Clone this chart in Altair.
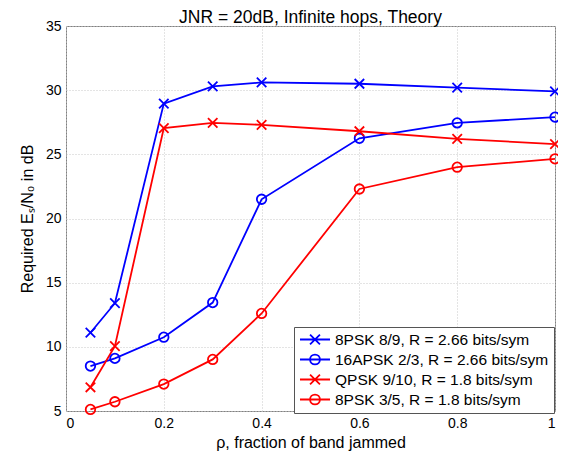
import altair as alt
import pandas as pd

rho = [0.05, 0.1, 0.2, 0.3, 0.4, 0.6, 0.8, 1.0]
series_names = [
    "8PSK 8/9, R = 2.66 bits/sym",
    "16APSK 2/3, R = 2.66 bits/sym",
    "QPSK 9/10, R = 1.8 bits/sym",
    "8PSK 3/5, R = 1.8 bits/sym",
]
psk8_89 = [11.1, 13.4, 28.95, 30.3, 30.6, 30.5, 30.2, 29.9]
apsk16_23 = [8.5, 9.1, 10.75, 13.45, 21.5, 26.25, 27.45, 27.9]
qpsk_910 = [6.85, 10.05, 27.05, 27.45, 27.3, 26.8, 26.2, 25.8]
psk8_35 = [5.12, 5.72, 7.1, 9.02, 12.6, 22.3, 24.0, 24.65]
series_values = [psk8_89, apsk16_23, qpsk_910, psk8_35]
series_colors = ["#0000ff", "#0000ff", "#ff0000", "#ff0000"]
x_ticks = [0, 0.2, 0.4, 0.6, 0.8, 1]
y_ticks = [5, 10, 15, 20, 25, 30, 35]

X_PATH = "M-1,-1L1,1M-1,1L1,-1"
marker_shapes = [X_PATH, "circle", X_PATH, "circle"]
LEG_X = "M-1,0L1,0M-0.33,-0.33L0.33,0.33M-0.33,0.33L0.33,-0.33"
LEG_O = "M-1,0L1,0M0.33,0A0.33,0.33 0 1,1 -0.33,0A0.33,0.33 0 1,1 0.33,0"
legend_shapes = [LEG_X, LEG_O, LEG_X, LEG_O]

rows = []
for name, vals in zip(series_names, series_values):
    for r, v in zip(rho, vals):
        rows.append({"series": name, "rho": r, "val": v})
df = pd.DataFrame(rows)

FONT = "Liberation Sans"
axis_style = dict(labelFont=FONT, labelFontSize=14, labelColor="black",
                  titleFont=FONT, titleFontSize=16, titleFontWeight="normal", titleColor="black",
                  grid=True, gridColor="#c8c8c8", gridDash=[1, 2], domain=False, ticks=False)

x_enc = alt.X("rho:Q", scale=alt.Scale(domain=[0, 1], nice=False),
              axis=alt.Axis(values=x_ticks, format="~g", title="ρ, fraction of band jammed",
                            labelPadding=5, titlePadding=4, **axis_style))
y_enc = alt.Y("val:Q", scale=alt.Scale(domain=[5, 35], nice=False),
              axis=alt.Axis(values=y_ticks, title="Required Eₛ/N₀ in dB",
                            labelPadding=5, titlePadding=10, **axis_style))

color_plain = alt.Color("series:N", sort=series_names,
                        scale=alt.Scale(domain=series_names, range=series_colors), legend=None)

base = alt.Chart(df)

lines = base.mark_line(strokeWidth=1.8).encode(
    x=x_enc, y=y_enc, color=color_plain, detail="series:N")

points = base.mark_point(filled=False, size=90, strokeWidth=1.8, opacity=1).encode(
    x=x_enc, y=y_enc, color=color_plain,
    shape=alt.Shape("series:N", sort=series_names,
                    scale=alt.Scale(domain=series_names, range=marker_shapes), legend=None))

leg = dict(title=None, orient="none", legendX=228, legendY=301,
           padding=5, strokeColor="#555555", fillColor="white",
           symbolSize=900, symbolStrokeWidth=1.8, symbolOpacity=1,
           clipHeight=15, rowPadding=4, labelOffset=4, labelLimit=400,
           labelFont=FONT, labelFontSize=15.5, labelColor="black")

legend_layer = base.mark_point(filled=False, opacity=0, strokeWidth=1.8).encode(
    x=x_enc, y=y_enc,
    color=alt.Color("series:N", sort=series_names,
                    scale=alt.Scale(domain=series_names, range=series_colors),
                    legend=alt.Legend(**leg)),
    shape=alt.Shape("series:N", sort=series_names,
                    scale=alt.Scale(domain=series_names, range=legend_shapes),
                    legend=alt.Legend(**leg)))

chart = alt.layer(lines, points, legend_layer).resolve_scale(
    color="independent", shape="independent"
).properties(
    width=489, height=385,
    title=alt.TitleParams("JNR = 20dB, Infinite hops, Theory", font=FONT, fontSize=17.5,
                          fontWeight="normal", color="black", anchor="middle", offset=4, dy=11),
    autosize=alt.AutoSizeParams(type="none"),
    padding={"left": 58, "top": 18, "right": 3, "bottom": 48},
    background="white",
).configure_view(stroke="#808080", strokeWidth=1)

chart.save("out.html", embed_options={"renderer": "svg", "actions": False})
